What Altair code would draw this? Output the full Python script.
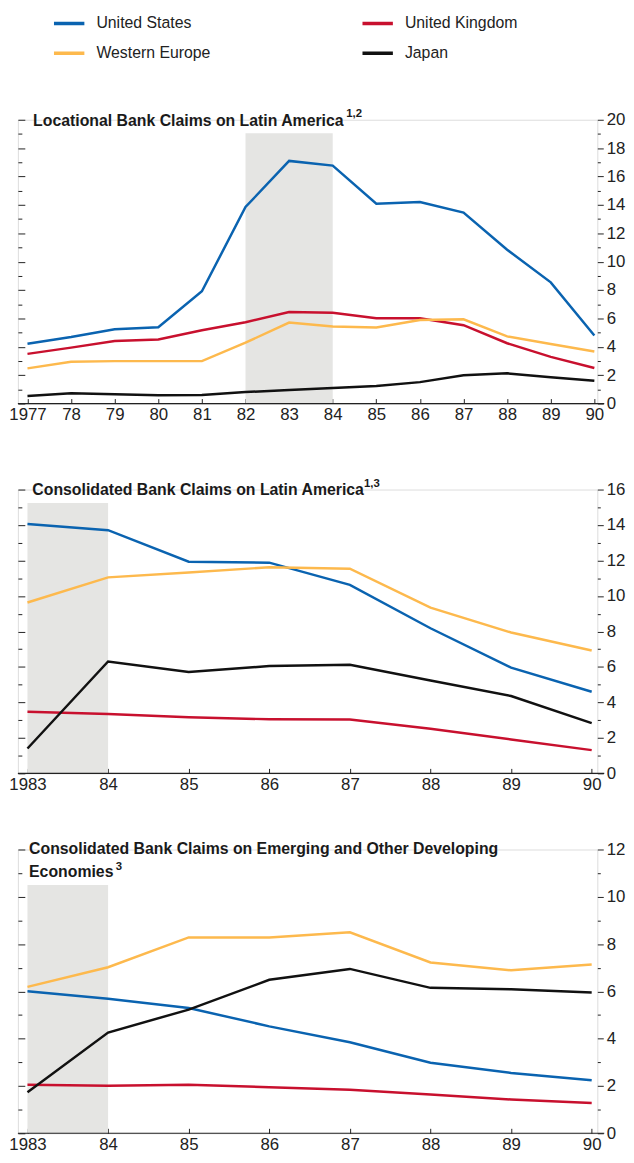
import altair as alt
import pandas as pd

FONT = "Liberation Sans, Arial, sans-serif"

# legend order is laid out column by column: US, W. Europe | UK, Japan
series = ["United States", "Western Europe", "United Kingdom", "Japan"]
colors = ["#0a63b0", "#fdb94d", "#c8102e", "#111111"]

# Panel 1: Locational Bank Claims on Latin America
years1 = list(range(1977, 1991))
us1 = [4.22, 4.69, 5.24, 5.38, 7.91, 13.85, 17.1, 16.77, 14.08, 14.2, 13.46, 10.84, 8.54, 4.8]
uk1 = [3.5, 3.94, 4.41, 4.52, 5.17, 5.73, 6.45, 6.4, 6.01, 6.01, 5.52, 4.25, 3.29, 2.5]
we1 = [2.48, 2.95, 2.99, 2.99, 2.99, 4.29, 5.71, 5.43, 5.36, 5.89, 5.94, 4.73, 4.2, 3.67]
jp1 = [0.53, 0.72, 0.65, 0.58, 0.6, 0.81, 0.95, 1.09, 1.23, 1.51, 2.0, 2.13, 1.86, 1.6]

# Panel 2: Consolidated Bank Claims on Latin America
years2 = list(range(1983, 1991))
us2 = [14.06, 13.71, 11.93, 11.88, 10.63, 8.18, 5.96, 4.6]
uk2 = [3.47, 3.35, 3.16, 3.05, 3.03, 2.52, 1.91, 1.31]
we2 = [9.63, 11.05, 11.32, 11.62, 11.54, 9.34, 7.94, 6.93]
jp2 = [1.4, 6.31, 5.72, 6.05, 6.12, 5.24, 4.36, 2.83]

# Panel 3: Consolidated Bank Claims on Emerging and Other Developing Economies
years3 = list(range(1983, 1991))
us3 = [6.01, 5.69, 5.3, 4.52, 3.85, 2.98, 2.55, 2.24]
uk3 = [2.05, 2.01, 2.05, 1.95, 1.84, 1.64, 1.43, 1.28]
we3 = [6.19, 7.02, 8.28, 8.28, 8.5, 7.22, 6.89, 7.14]
jp3 = [1.73, 4.26, 5.23, 6.49, 6.95, 6.15, 6.09, 5.95]

# Shaded periods: start, end, top
shade1 = [1982, 1984, 19.05]
shade2 = [1983, 1984, 15.24]
shade3 = [1983, 1984, 10.5]

W = 586
H = 287


def long_df(years, us, uk, we, jp):
    rows = []
    for name, vals in zip(["United States", "United Kingdom", "Western Europe", "Japan"],
                          [us, uk, we, jp]):
        for y, v in zip(years, vals):
            rows.append({"year": y, "value": v, "series": name})
    return pd.DataFrame(rows)


def panel(years, vals, ymax, dom, shade, titles, sup, with_legend):
    df = long_df(years, *vals)
    first = years[0]
    yscale = alt.Scale(domain=[0, ymax], nice=False, zero=True)
    xscale = alt.Scale(domain=dom, nice=False, zero=False)
    ticks = list(range(0, ymax + 1))

    left_axis = alt.Axis(
        orient="right", offset=-W, values=ticks, labels=False, domain=False,
        grid=False, title=None, tickColor="#222", tickWidth=1,
        tickSize={"condition": {"test": "datum.value % 2 === 0", "value": 7}, "value": 4},
    )
    right_axis = alt.Axis(
        orient="right", offset=0, values=ticks, domain=False, grid=False, title=None,
        tickColor="#222", tickWidth=1,
        tickSize={"condition": {"test": "datum.value % 2 === 0", "value": 6}, "value": 3},
        labelExpr="datum.value % 2 === 0 ? datum.label : ''",
        labelFont=FONT, labelFontSize=17, labelColor="#222", labelPadding=3,
        labelBaseline="middle",
    )
    x_axis = alt.Axis(
        values=years, offset=-5, domain=False, grid=False, title=None,
        tickSize=5, tickColor="#222", tickWidth=1,
        labelExpr=f"datum.value == {first} ? '{first}' : slice(toString(datum.value), 2)",
        labelFont=FONT, labelFontSize=17, labelColor="#222", labelPadding=3,
        labelOverlap=False, labelFlush=False,
    )

    sdf = pd.DataFrame([{"start": shade[0], "end": shade[1], "top": shade[2]}])
    band = alt.Chart(sdf).mark_rect(color="#e5e5e3").encode(
        x=alt.X("start:Q", scale=xscale, axis=x_axis),
        x2="end:Q",
        y=alt.Y("top:Q", scale=yscale, axis=left_axis),
        y2=alt.Y2(datum=0),
    )

    legend = None
    if with_legend:
        legend = alt.Legend(
            orient="none", legendX=36.5, legendY=-107.3, columns=2, title=None,
            symbolType="M-2,0H2", symbolSize=370, symbolStrokeWidth=3.5,
            labelFont=FONT, labelFontSize=16, labelColor="#222", labelOffset=19.9,
            columnPadding=153, rowPadding=10, clipHeight=20,
        )
    lines = alt.Chart(df).mark_line(strokeWidth=2.5).encode(
        x=alt.X("year:Q", scale=xscale, axis=x_axis),
        y=alt.Y("value:Q", scale=yscale, axis=right_axis),
        color=alt.Color("series:N", scale=alt.Scale(domain=series, range=colors),
                        legend=legend),
        order=alt.Order("year:Q"),
    )

    base = alt.Chart(pd.DataFrame([{"v": 0}])).mark_rule(color="#222", strokeWidth=1.2).encode(
        y=alt.Y("v:Q", scale=yscale, axis=None),
        x=alt.value(0),
        x2=alt.value(W + 7),
    )

    layers = [band, lines, base]
    for t in titles:
        tdf = pd.DataFrame([{"t": t[0]}])
        layers.append(
            alt.Chart(tdf).mark_text(
                align="left", baseline="middle", font=FONT, fontSize=16,
                fontWeight="bold", color="#1a1a1a",
            ).encode(text="t:N", x=alt.value(t[1]), y=alt.value(t[2]))
        )
    sdf2 = pd.DataFrame([{"t": sup[0]}])
    layers.append(
        alt.Chart(sdf2).mark_text(
            align="left", baseline="middle", font=FONT, fontSize=11.5,
            fontWeight="bold", color="#1a1a1a",
        ).encode(text="t:N", x=alt.value(sup[1]), y=alt.value(sup[2]))
    )

    return alt.layer(*layers).resolve_axis(y="independent").properties(width=W, height=H)


p1 = panel(years1, [us1, uk1, we1, jp1], 20,
           [1977 - 9.7 / 44.1, 1990 + 3 / 44.1], shade1,
           [("Locational Bank Claims on Latin America", 15.4, 1)],
           ("1,2", 332, -6), True)
p2 = panel(years2, [us2, uk2, we2, jp2], 16,
           [1983 - 9.7 / 81.5, 1990 + 5.7 / 81.5], shade2,
           [("Consolidated Bank Claims on Latin America", 14.6, 1)],
           ("1,3", 350, -6), False)
p3 = panel(years3, [us3, uk3, we3, jp3], 12,
           [1983 - 9.7 / 81.5, 1990 + 5.7 / 81.5], shade3,
           [("Consolidated Bank Claims on Emerging and Other Developing", 11.3, 0),
            ("Economies", 11.3, 22.7)],
           ("3", 99, 17.7), False)

chart = alt.vconcat(
    alt.vconcat(p1, p2, spacing=54), p3, spacing=47,
    padding={"left": 0, "top": -1.5, "right": 0, "bottom": 0},
).configure_view(stroke=None).configure(background="white")

chart.save("out.html", embed_options={"renderer": "svg", "actions": False})
